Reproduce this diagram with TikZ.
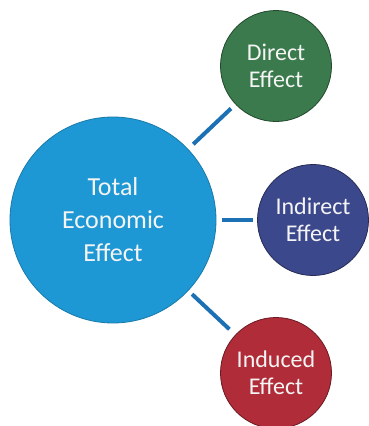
\documentclass[tikz,border=0pt]{standalone}
\usepackage{fontspec}
\setmainfont{Carlito}
\definecolor{bigblue}{RGB}{30,152,212}
\definecolor{dgreen}{RGB}{58,122,76}
\definecolor{dindigo}{RGB}{60,72,140}
\definecolor{dred}{RGB}{176,44,56}
\definecolor{linkblue}{RGB}{28,112,180}
\definecolor{softwhite}{RGB}{244,244,244}
\tikzset{
  bubble/.style={circle, inner sep=0pt, text=softwhite, align=center, line width=0.8pt},
  bigbubble/.style={bubble, minimum size=206pt, fill=bigblue, draw=bigblue!80!black,
    font=\fontsize{26pt}{33pt}\selectfont},
  smallbubble/.style={bubble, minimum size=111pt, draw=#1!60!black, fill=#1,
    font=\fontsize{24pt}{27pt}\selectfont},
  link/.style={draw=linkblue, line width=4pt}
}
\begin{document}
\begin{tikzpicture}[x=1pt,y=-1pt]
\useasboundingbox (0,0) rectangle (369,426);
\node[bigbubble] (total) at (113,220) {Total\\Economic\\Effect};
\node[smallbubble=dgreen] (direct) at (276,66) {Direct\\Effect};
\node[smallbubble=dindigo] (indirect) at (313,220) {Indirect\\Effect};
\node[smallbubble=dred] (induced) at (276,373) {Induced\\Effect};
\draw[link, shorten <=7pt, shorten >=6pt] (total) -- (direct);
\draw[link, shorten <=6pt, shorten >=4pt] (total) -- (indirect);
\draw[link, shorten <=5pt, shorten >=8pt] (total) -- (induced);
\end{tikzpicture}
\end{document}
